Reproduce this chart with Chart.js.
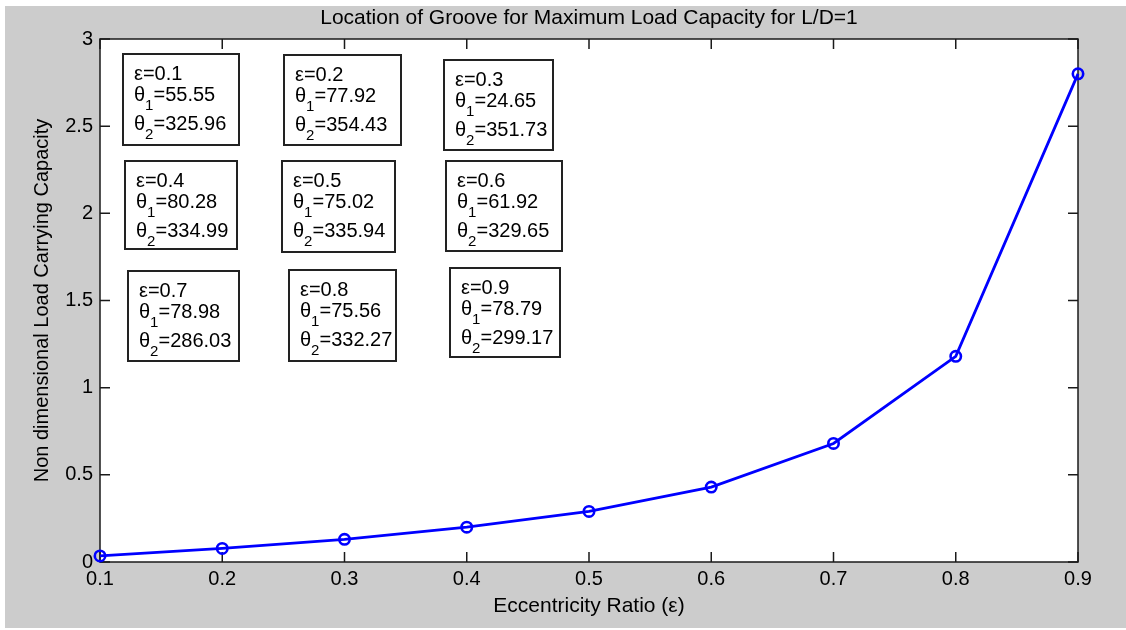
<!DOCTYPE html>
<html>
<head>
<meta charset="utf-8">
<script src="https://cdn.jsdelivr.net/npm/chart.js@4.4.1/dist/chart.umd.min.js"></script>
<style>
  html, body { margin: 0; padding: 0; background: #ffffff; }
  canvas { display: block; }
</style>
</head>
<body>
<canvas id="c" width="1126" height="630"></canvas>
<script>
// ---- Data ----
const eccentricity = [0.1, 0.2, 0.3, 0.4, 0.5, 0.6, 0.7, 0.8, 0.9];
const loadCapacity = [0.035, 0.078, 0.13, 0.20, 0.29, 0.43, 0.68, 1.18, 2.80];
const theta1 = [55.55, 77.92, 24.65, 80.28, 75.02, 61.92, 78.98, 75.56, 78.79];
const theta2 = [325.96, 354.43, 351.73, 334.99, 335.94, 329.65, 286.03, 332.27, 299.17];
const xTickLabels = ['0.1', '0.2', '0.3', '0.4', '0.5', '0.6', '0.7', '0.8', '0.9'];
const yTickLabels = ['0', '0.5', '1', '1.5', '2', '2.5', '3'];
const titleText = 'Location of Groove for Maximum Load Capacity for L/D=1';
const xAxisTitle = 'Eccentricity Ratio (\u03b5)';
const yAxisTitle = 'Non dimensional Load Carrying Capacity';

// ---- Layout of annotation boxes (pixels: left, top, right, bottom) ----
const boxLayout = [
  [123, 54, 239, 145],
  [284, 55, 401, 145],
  [444, 60, 553, 150],
  [125, 161, 237, 249],
  [282, 161, 395, 252],
  [446, 161, 562, 251],
  [128, 271, 239, 361],
  [289, 270, 396, 361],
  [450, 268, 560, 357]
];

const FONT = '"Liberation Sans", Arial, sans-serif';
const AXIS_COLOR = '#1a1a1a';

const points = eccentricity.map((x, i) => ({ x: x, y: loadCapacity[i] }));

const backgroundPlugin = {
  id: 'bg',
  beforeDraw(chart) {
    const ctx = chart.ctx;
    const a = chart.chartArea;
    ctx.save();
    ctx.fillStyle = '#ffffff';
    ctx.fillRect(0, 0, chart.width, chart.height);
    ctx.fillStyle = '#cccccc';
    ctx.fillRect(5, 6, chart.width - 5, 622);
    ctx.fillStyle = '#ffffff';
    ctx.fillRect(a.left, a.top, a.right - a.left, a.bottom - a.top);
    // title centred over the plot area
    ctx.fillStyle = '#000000';
    ctx.font = '21px ' + FONT;
    ctx.textAlign = 'center';
    ctx.textBaseline = 'middle';
    ctx.fillText(titleText, (a.left + a.right) / 2, 18);
    ctx.restore();
  },
  beforeDatasetsDraw(chart) {
    const ctx = chart.ctx;
    const a = chart.chartArea;
    const xs = chart.scales.x, ys = chart.scales.y;
    ctx.save();
    ctx.strokeStyle = AXIS_COLOR;
    ctx.lineWidth = 1.5;
    ctx.strokeRect(a.left, a.top, a.right - a.left, a.bottom - a.top);
    const tl = 10;
    ctx.beginPath();
    xs.ticks.forEach(t => {
      const px = xs.getPixelForValue(t.value);
      ctx.moveTo(px, a.bottom); ctx.lineTo(px, a.bottom - tl);
      ctx.moveTo(px, a.top); ctx.lineTo(px, a.top + tl);
    });
    ys.ticks.forEach(t => {
      const py = ys.getPixelForValue(t.value);
      ctx.moveTo(a.left, py); ctx.lineTo(a.left + tl, py);
      ctx.moveTo(a.right, py); ctx.lineTo(a.right - tl, py);
    });
    ctx.stroke();
    ctx.restore();
  },
  afterDatasetsDraw(chart) {
    const ctx = chart.ctx;
    ctx.save();
    boxLayout.forEach((b, i) => {
      const [l, t, r, bo] = b;
      ctx.fillStyle = '#ffffff';
      ctx.fillRect(l, t, r - l, bo - t);
      ctx.strokeStyle = '#222222';
      ctx.lineWidth = 2;
      ctx.strokeRect(l, t, r - l, bo - t);
      ctx.fillStyle = '#000000';
      ctx.textBaseline = 'alphabetic';
      ctx.textAlign = 'left';
      const tx = l + 11;
      ctx.font = '20px ' + FONT;
      ctx.fillText('\u03b5=' + eccentricity[i].toFixed(1), tx, t + 26);
      const drawTheta = (sub, val, base) => {
        ctx.font = '20px ' + FONT;
        ctx.fillText('\u03b8', tx, base);
        let w = ctx.measureText('\u03b8').width;
        ctx.font = '15px ' + FONT;
        ctx.fillText(sub, tx + w, base + 9);
        w += ctx.measureText(sub).width;
        ctx.font = '20px ' + FONT;
        ctx.fillText('=' + val.toFixed(2), tx + w, base);
      };
      drawTheta('1', theta1[i], t + 47);
      drawTheta('2', theta2[i], t + 76);
    });
    ctx.restore();
  }
};

new Chart(document.getElementById('c'), {
  type: 'line',
  data: {
    datasets: [{
      data: points,
      borderColor: '#0000ff',
      borderWidth: 2.8,
      pointRadius: 5.2,
      pointBorderWidth: 2.6,
      pointBorderColor: '#0000ff',
      pointBackgroundColor: 'rgba(0,0,0,0)',
      pointStyle: 'circle',
      tension: 0,
      fill: false,
      clip: false
    }]
  },
  options: {
    responsive: false,
    animation: false,
    devicePixelRatio: 1,
    layout: { padding: { top: 39, right: 48, bottom: 0, left: 0 } },
    plugins: {
      legend: { display: false },
      tooltip: { enabled: false },
      title: { display: false }
    },
    scales: {
      x: {
        type: 'linear',
        min: 0.1,
        max: 0.9,
        afterFit(scale) { scale.height = 68; },
        afterBuildTicks(scale) {
          scale.ticks = eccentricity.map(v => ({ value: v }));
        },
        ticks: {
          color: '#000000',
          font: { family: FONT, size: 20 },
          padding: 5,
          maxRotation: 0,
          autoSkip: false,
          callback: (v, i) => xTickLabels[i]
        },
        grid: { display: false, drawTicks: false },
        border: { display: false },
        title: {
          display: true,
          text: xAxisTitle,
          color: '#000000',
          font: { family: FONT, size: 21, lineHeight: 1.2 },
          padding: { top: 0, bottom: 11 }
        }
      },
      y: {
        type: 'linear',
        min: 0,
        max: 3,
        afterFit(scale) { scale.width = 100; },
        ticks: {
          stepSize: 0.5,
          color: '#000000',
          font: { family: FONT, size: 20 },
          padding: 7,
          callback: (v, i) => yTickLabels[i]
        },
        grid: { display: false, drawTicks: false },
        border: { display: false },
        title: {
          display: true,
          text: yAxisTitle,
          color: '#000000',
          font: { family: FONT, size: 20, lineHeight: 1.2 },
          padding: { top: 30, bottom: 0 }
        }
      }
    }
  },
  plugins: [backgroundPlugin]
});
</script>
</body>
</html>
